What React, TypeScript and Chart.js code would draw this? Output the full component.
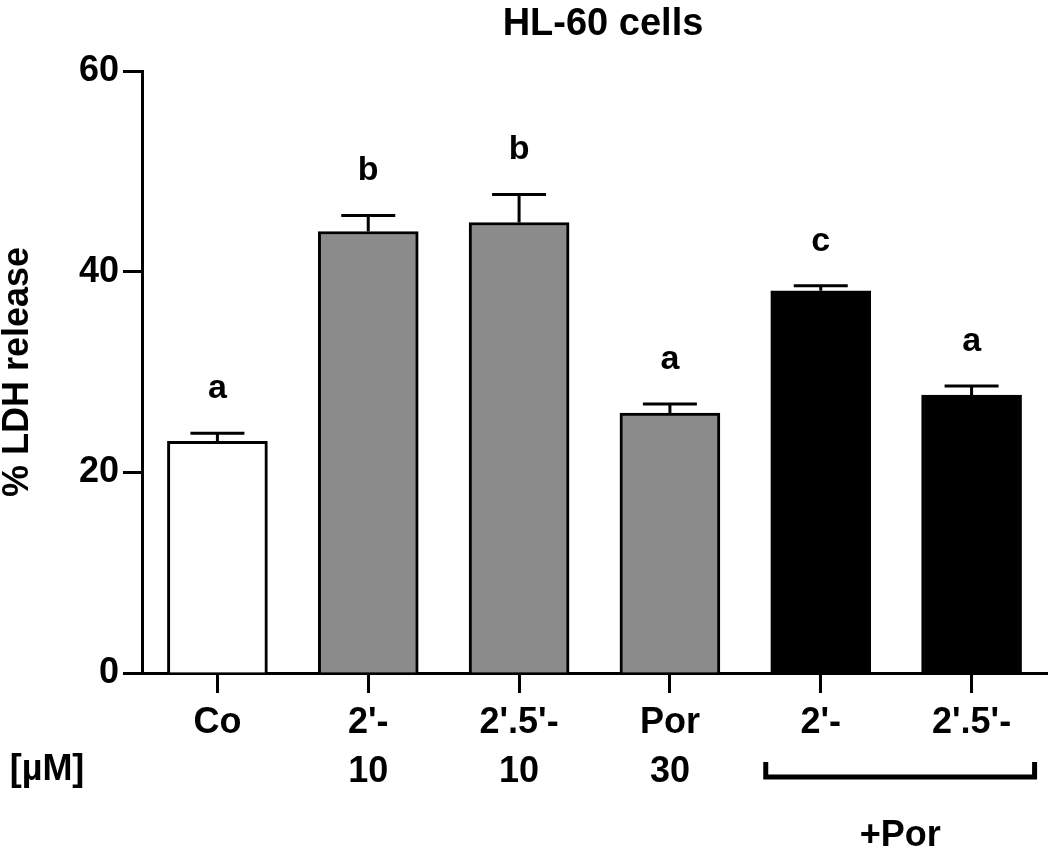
import React, { useEffect, useRef } from "react";
import { Chart, registerables } from "chart.js";

Chart.register(...registerables);

const categories = ["Co", "2'-", "2',5'-", "Por", "2'-", "2',5'-"];
const values = [23.1, 44.0, 44.9, 25.9, 38.1, 27.7];
const errors = [0.8, 1.6, 2.8, 0.9, 0.5, 0.9];
const letters = ["a", "b", "b", "a", "c", "a"];
const concentrations = ["", "10", "10", "30", "", ""];
const fills = ["#ffffff", "#8b8b8b", "#8b8b8b", "#8b8b8b", "#000000", "#000000"];
const yTicks = [0, 20, 40, 60];

const FONT = "'Liberation Sans', Arial, Helvetica, sans-serif";

const overlay = {
  id: "overlay",
  afterDatasetsDraw(chart: any) {
    const { ctx, scales } = chart;
    const x = scales.x;
    const y = scales.y;
    ctx.save();
    ctx.strokeStyle = "#000";
    ctx.fillStyle = "#000";
    ctx.lineWidth = 3;
    ctx.lineCap = "butt";
    ctx.textAlign = "center";
    ctx.textBaseline = "alphabetic";
    ctx.font = `bold 34px ${FONT}`;
    values.forEach((v, i) => {
      const cx = x.getPixelForValue(i);
      const yTop = y.getPixelForValue(v);
      const yErr = y.getPixelForValue(v + errors[i]);
      ctx.beginPath();
      ctx.moveTo(cx, yTop);
      ctx.lineTo(cx, yErr);
      ctx.moveTo(cx - 27, yErr);
      ctx.lineTo(cx + 27, yErr);
      ctx.stroke();
      ctx.fillText(letters[i], cx, yErr - 35);
    });
    ctx.restore();
  },
  afterDraw(chart: any) {
    const { ctx, scales, chartArea } = chart;
    const x = scales.x;
    ctx.save();
    ctx.fillStyle = "#000";
    ctx.strokeStyle = "#000";
    ctx.textAlign = "center";
    ctx.textBaseline = "middle";
    // title
    ctx.font = `bold 38px ${FONT}`;
    ctx.fillText("HL-60 cells", 603, 25);
    // y label
    ctx.save();
    ctx.translate(18, (chartArea.top + chartArea.bottom) / 2 + 0);
    ctx.rotate(-Math.PI / 2);
    ctx.font = `bold 36px ${FONT}`;
    ctx.fillText("% LDH release", 0, 0);
    ctx.restore();
    // concentrations
    ctx.font = `bold 36px ${FONT}`;
    ctx.fillText("[µM]", 47, 770);
    concentrations.forEach((c, i) => {
      if (c) ctx.fillText(c, x.getPixelForValue(i), 772);
    });
    // bracket
    const l = x.getPixelForValue(4) - 55;
    const r = x.getPixelForValue(5) + 63;
    ctx.lineWidth = 5;
    ctx.lineJoin = "miter";
    ctx.beginPath();
    ctx.moveTo(l, 762);
    ctx.lineTo(l, 777);
    ctx.lineTo(r, 777);
    ctx.lineTo(r, 762);
    ctx.stroke();
    ctx.fillText("+Por", (l + r) / 2, 836);
    ctx.restore();
  },
};

export default function App() {
  const ref = useRef<HTMLCanvasElement | null>(null);
  useEffect(() => {
    if (!ref.current) return;
    const chart = new Chart(ref.current, {
      type: "bar",
      data: {
        labels: categories,
        datasets: [
          {
            data: values,
            backgroundColor: fills,
            borderColor: "#000",
            borderWidth: 3,
            barThickness: 100,
          },
        ],
      },
      options: {
        responsive: false,
        animation: false,
        events: [],
        layout: { padding: { left: 0, top: 71, right: 3, bottom: 117 } },
        plugins: {
          legend: { display: false },
          tooltip: { enabled: false },
          title: { display: false },
        },
        scales: {
          x: {
            type: "category",
            offset: true,
            grid: {
              offset: false,
              drawOnChartArea: false,
              drawTicks: true,
              tickLength: 20,
              tickWidth: 3,
              tickColor: "#000",
              color: "#000",
            },
            border: { display: true, color: "#000", width: 3 },
            ticks: {
              color: "#000",
              font: { family: FONT, size: 36, weight: "bold" },
              padding: 8,
              maxRotation: 0,
              autoSkip: false,
            },
            afterFit: (s: any) => {
              s.height = 60;
            },
          },
          y: {
            min: 0,
            max: 60,
            afterBuildTicks: (s: any) => {
              s.ticks = yTicks.map((v) => ({ value: v }));
            },
            grid: {
              drawOnChartArea: false,
              drawTicks: true,
              tickLength: 19,
              tickWidth: 3,
              tickColor: "#000",
              color: "#000",
            },
            border: { display: true, color: "#000", width: 3 },
            ticks: {
              color: "#000",
              font: { family: FONT, size: 36, weight: "bold" },
              padding: 4,
            },
            afterFit: (s: any) => {
              s.width = 142;
            },
          },
        },
      },
      plugins: [overlay],
    });
    return () => chart.destroy();
  }, []);
  return (
    <div style={{ position: "absolute", left: 0, top: 0, width: 1050, height: 850, background: "#fff" }}>
      <canvas ref={ref} width={1050} height={850} style={{ display: "block" }} />
    </div>
  );
}
